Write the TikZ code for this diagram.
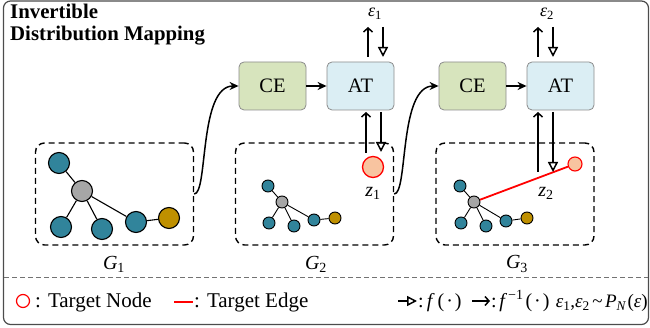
\documentclass[tikz,border=0pt]{standalone}
\usepackage{fontspec}
\setmainfont{Liberation Serif}
\usetikzlibrary{arrows.meta}
\definecolor{tealn}{HTML}{31849B}
\definecolor{grayn}{HTML}{A6A6A6}
\definecolor{goldn}{HTML}{BF9000}
\definecolor{targetn}{HTML}{F8C4A0}
\definecolor{cefill}{HTML}{D7E4BD}
\definecolor{atfill}{HTML}{DBEEF4}
\begin{document}
\begin{tikzpicture}[x=1pt,y=-1pt,
  frame/.style={draw=black!70, line width=1.2pt, rounded corners=7pt},
  gbox/.style={draw, line width=1.4pt, dash pattern=on 6pt off 4pt, rounded corners=9pt, minimum width=158pt, minimum height=102pt, inner sep=0pt},
  blk/.style={draw=black!45, line width=0.8pt, rounded corners=5pt, minimum width=67pt, minimum height=48pt, inner sep=0pt, font=\fontsize{20.5}{22}\selectfont},
  big/.style={circle, draw, line width=1.1pt, inner sep=0pt, minimum size=21pt},
  sml/.style={circle, draw, line width=0.9pt, inner sep=0pt, minimum size=12pt},
  edg/.style={line width=1.1pt},
  sedg/.style={line width=0.9pt},
  flow/.style={line width=1.5pt, -{Stealth[length=9pt,width=8pt]}},
  inv/.style={line width=1.5pt, -{Straight Barb[length=4pt,width=9pt]}},
  fwd/.style={line width=1.5pt, -{Triangle[open,length=10pt,width=10pt]}},
  lbl/.style={inner sep=0pt, font=\fontsize{20}{22}\selectfont},
  leg/.style={inner sep=0pt, font=\fontsize{21}{22}\selectfont},
  eps/.style={inner sep=0pt, font=\fontsize{18}{20}\selectfont},
  ]
\useasboundingbox (0,0) rectangle (650,328);
\draw[frame] (3.5,1) rectangle (648.5,324.5);

\node[anchor=north west, align=left, inner sep=0pt, font=\bfseries\fontsize{20.8}{21.5}\selectfont] (title) at (10,4) {Invertible\\Distribution Mapping};

% graph boxes
\node[gbox] (g1) at (114.5,194) {};
\node[gbox] (g2) at (314.5,194) {};
\node[gbox] (g3) at (515,194) {};
\node[lbl] (g1l) at (114,264) {\textit{G}\textsubscript{1}};
\node[lbl] (g2l) at (316,264) {\textit{G}\textsubscript{2}};
\node[lbl] (g3l) at (517,264) {\textit{G}\textsubscript{3}};

% blocks
\node[blk, fill=cefill] (ce1) at (272.5,86) {CE};
\node[blk, fill=atfill] (at1) at (360.5,86) {AT};
\node[blk, fill=cefill] (ce2) at (472.5,86) {CE};
\node[blk, fill=atfill] (at2) at (560.5,86) {AT};
\draw[flow] (ce1) -- (at1);
\draw[flow] (ce2) -- (at2);
\draw[flow] (g1.east) .. controls +(14,0) and +(-40,0) .. (ce1.west);
\draw[flow] (g2.east) .. controls +(14,0) and +(-40,0) .. (ce2.west);

% graph 1
\node[big, fill=tealn] (a1) at (59,163) {};
\node[big, fill=grayn] (c1) at (82,191) {};
\node[big, fill=tealn] (b1) at (61,227) {};
\node[big, fill=tealn] (d1) at (102,229) {};
\node[big, fill=tealn] (e1) at (136,222) {};
\node[big, fill=goldn] (f1) at (169,218) {};
\draw[edg] (a1)--(c1) (c1)--(b1) (c1)--(d1) (c1)--(e1) (e1)--(f1);

% graph 2
\node[sml, fill=tealn] (a2) at (268,186) {};
\node[sml, fill=grayn] (c2) at (282,202) {};
\node[sml, fill=tealn] (b2) at (269,223) {};
\node[sml, fill=tealn] (d2) at (294,226) {};
\node[sml, fill=tealn] (e2) at (314,220) {};
\node[sml, fill=goldn] (f2) at (335,218) {};
\draw[sedg] (a2)--(c2) (c2)--(b2) (c2)--(d2) (c2)--(e2) (e2)--(f2);
\node[big, fill=targetn, draw=red, line width=1.3pt] (z1) at (373,167) {};
\node[lbl] (z1l) at (373,193) {\textit{z}\textsubscript{1}};

% graph 3
\node[sml, fill=tealn] (a3) at (460,186) {};
\node[sml, fill=grayn] (c3) at (474,202) {};
\node[sml, fill=tealn] (b3) at (461,223) {};
\node[sml, fill=tealn] (d3) at (486,226) {};
\node[sml, fill=tealn] (e3) at (506,221) {};
\node[sml, fill=goldn] (f3) at (527,218) {};
\node[circle, inner sep=0pt, minimum size=14pt, fill=targetn, draw=red, line width=1.1pt] (z2) at (575,164) {};
\draw[sedg] (a3)--(c3) (c3)--(b3) (c3)--(d3) (c3)--(e3) (e3)--(f3);
\draw[red, line width=1.8pt] (c3) -- (z2);
\node[lbl] (z2l) at (546,193) {\textit{z}\textsubscript{2}};

% epsilon arrows panel 1
\node[eps] (eps1) at (375,14) {\textit{ε}\textsubscript{1}};
\coordinate (p1a) at (368,57); \coordinate (p1b) at (368,27);
\coordinate (p1c) at (383,27); \coordinate (p1d) at (383,57);
\draw[inv] (p1a) -- (p1b);
\draw[fwd] (p1c) -- (p1d);
\coordinate (q1a) at (366,153); \coordinate (q1b) at (366,112);
\coordinate (q1c) at (381,112); \coordinate (q1d) at (381,152);
\draw[inv] (q1a) -- (q1b);
\draw[fwd] (q1c) -- (q1d);

% epsilon arrows panel 3
\node[eps] (eps2) at (547,14) {\textit{ε}\textsubscript{2}};
\coordinate (p2a) at (538,57); \coordinate (p2b) at (538,27);
\coordinate (p2c) at (553,27); \coordinate (p2d) at (553,57);
\draw[inv] (p2a) -- (p2b);
\draw[fwd] (p2c) -- (p2d);
\coordinate (q2a) at (538,172); \coordinate (q2b) at (538,112);
\coordinate (q2c) at (553,112); \coordinate (q2d) at (553,172);
\draw[inv] (q2a) -- (q2b);
\draw[fwd] (q2c) -- (q2d);

% separator
\coordinate (s1) at (4,278); \coordinate (s2) at (648,278);
\draw[black!55, line width=1pt, dash pattern=on 5pt off 3pt] (s1) -- (s2);

% legend
\node[circle, draw=red, line width=1.2pt, minimum size=13pt, inner sep=0pt] (lgn) at (23,301) {};
\node[leg, anchor=base west] (t1) at (35,307.5) {: Target Node};
\coordinate (lr1) at (174,302); \coordinate (lr2) at (193,302);
\draw[red, line width=1.2pt] (lr1) -- (lr2);
\node[leg, anchor=base west] (t2) at (194,307.5) {: Target Edge};
\coordinate (la1) at (398,301); \coordinate (la2) at (417,301);
\draw[fwd] (la1) -- (la2);
\node[lbl, anchor=base west] (t3) at (418,307.5) {:\kern3pt\textit{f}\kern3pt(\kern2pt·\kern2pt)};
\coordinate (lb1) at (472,301); \coordinate (lb2) at (490,301);
\draw[inv] (lb1) -- (lb2);
\node[lbl, anchor=base west] (t4) at (491,307.5) {:\kern2.5pt\textit{f}\kern1pt\textsuperscript{−1}\kern2pt(\kern2pt·\kern2pt)};
\node[inner sep=0pt, font=\fontsize{19}{20}\selectfont, anchor=base east] (t5) at (648,307.5) {\textit{ε}\textsubscript{1},\textit{ε}\textsubscript{2}\kern2.5pt\textasciitilde\kern2.5pt\textit{P}\textsubscript{\textit{N}}\kern1pt(\textit{ε})};
\end{tikzpicture}
\end{document}
